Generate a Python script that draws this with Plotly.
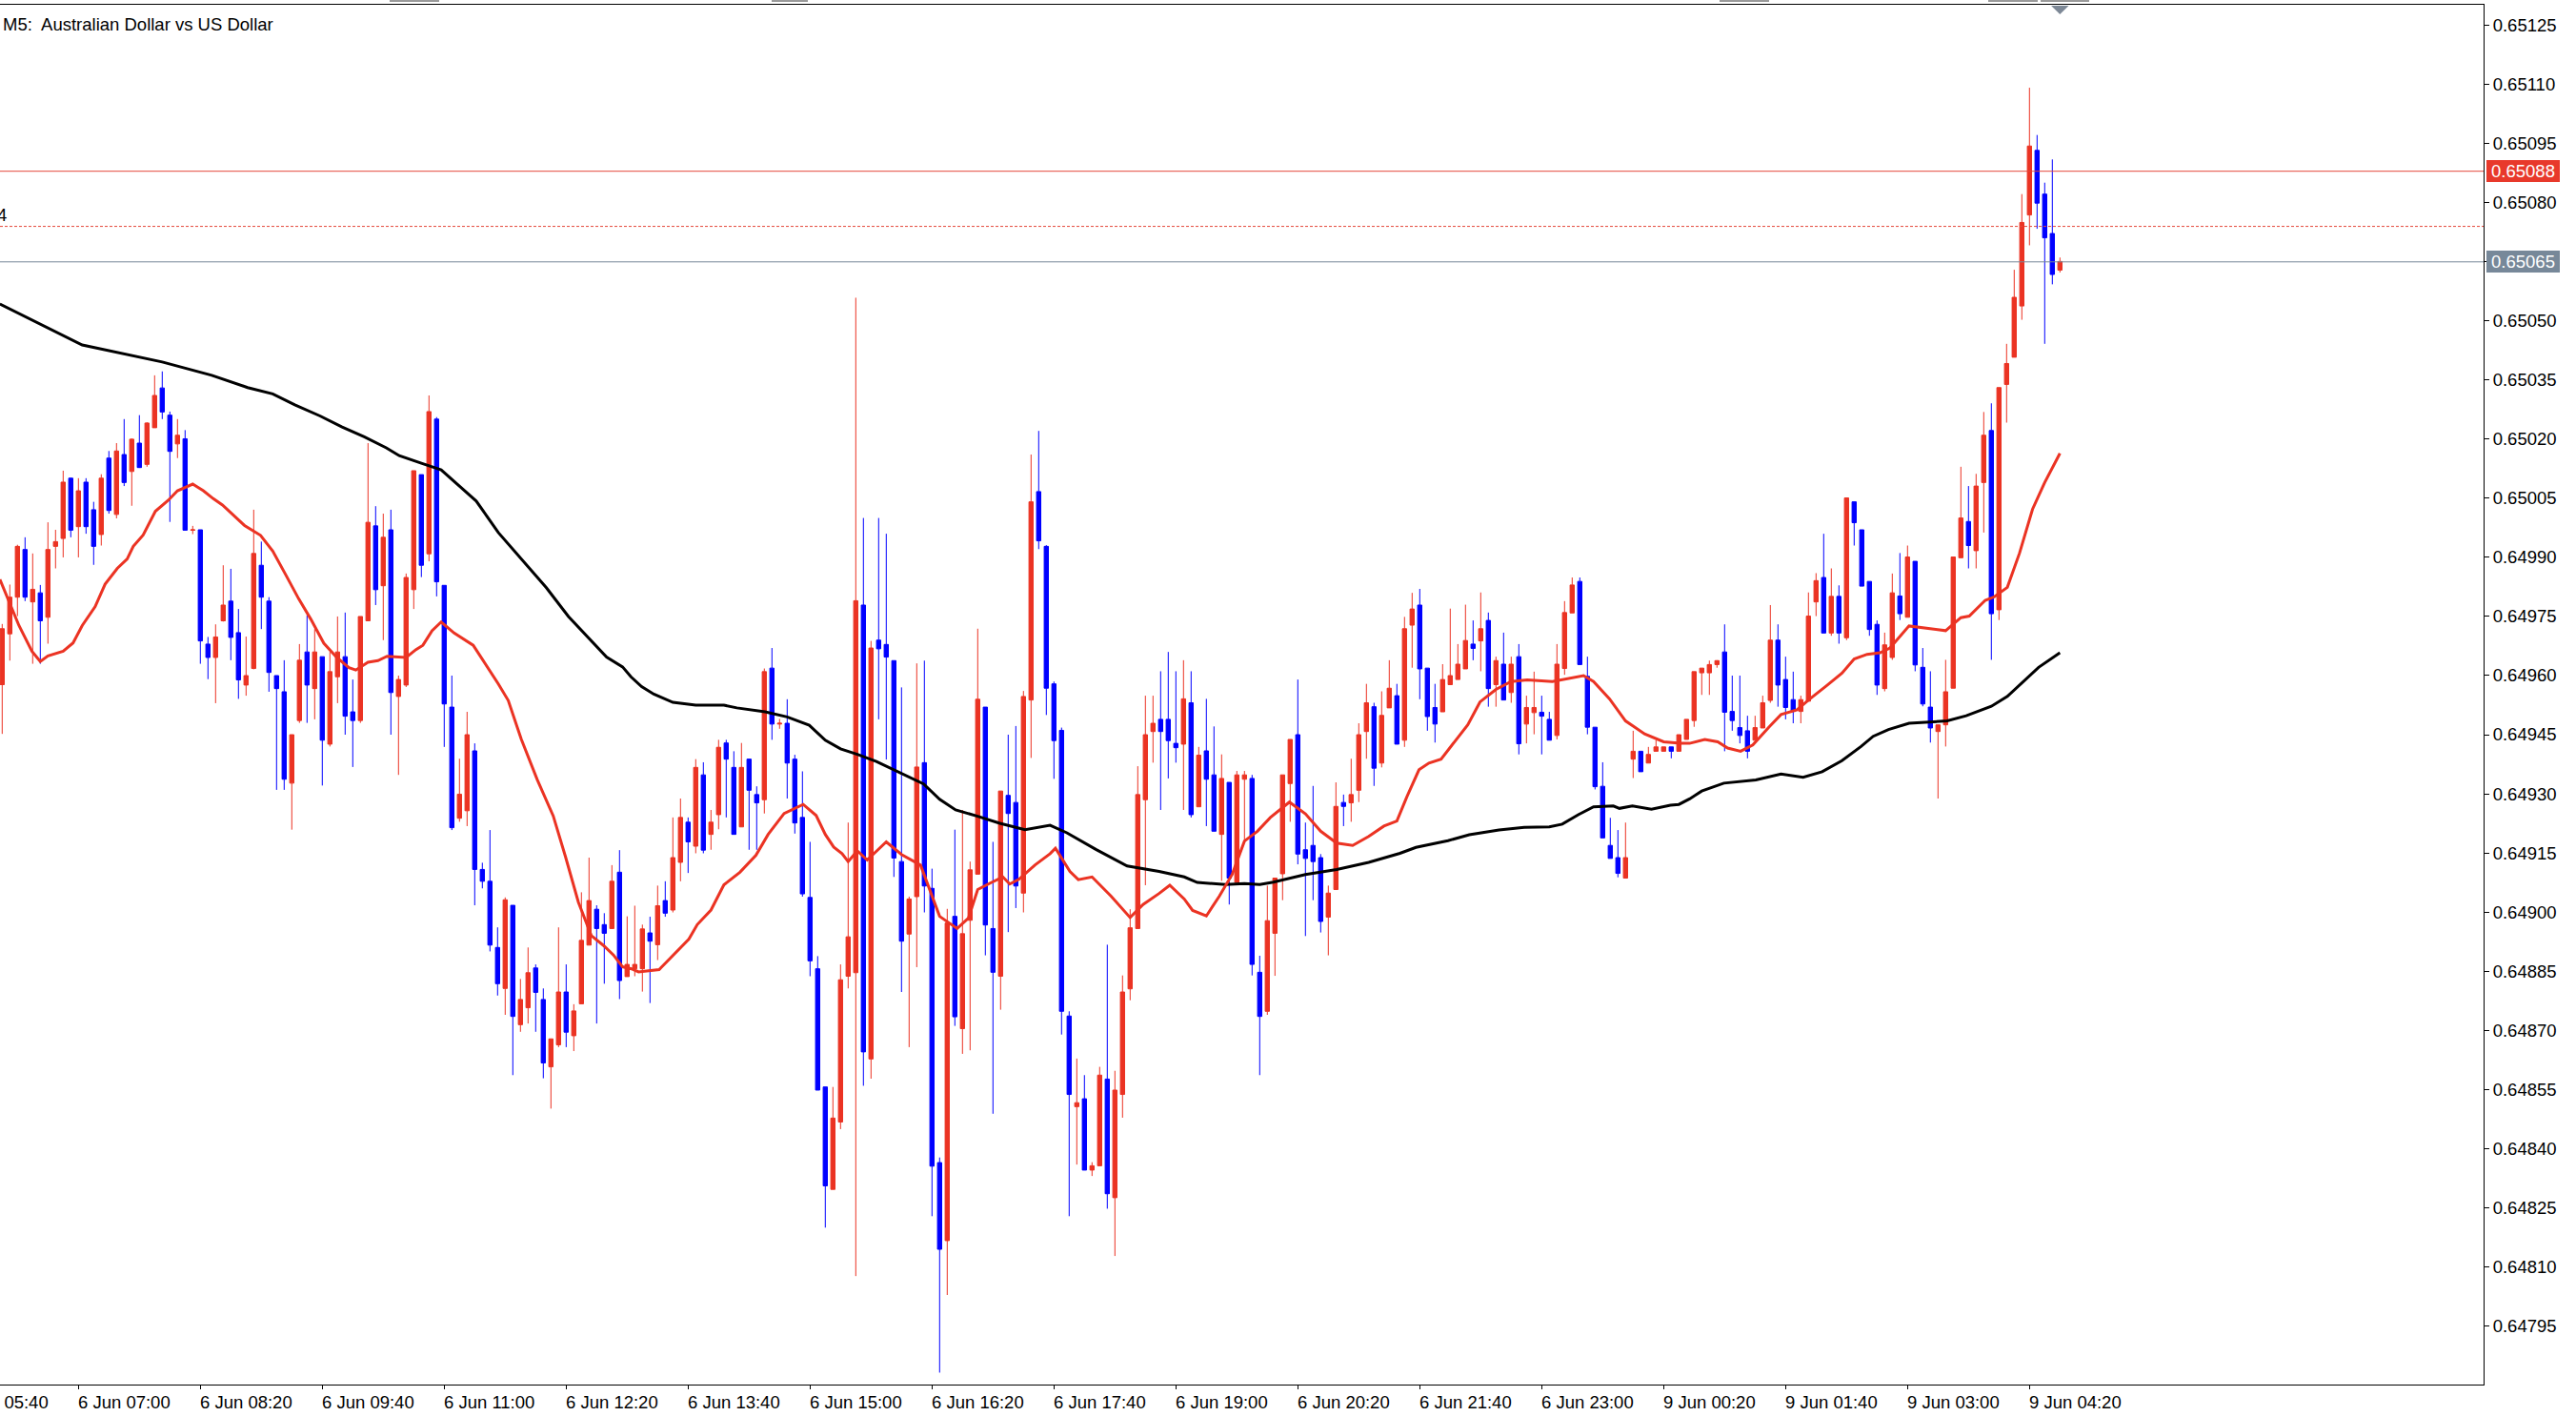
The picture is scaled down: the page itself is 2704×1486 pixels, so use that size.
import plotly.graph_objects as go

# ---------------- DATA (AUDUSD, M5) ----------------
opens = [0.649577,0.649706,0.649799,0.649920,0.649787,0.649810,0.649748,0.649928,0.649948,0.650101,
0.649978,0.650091,0.650021,0.649958,0.650152,0.650009,0.650161,0.650118,0.650190,0.650136,
0.650229,0.650330,0.650261,0.650188,0.650201,0.649969,0.649970,0.649680,0.649646,0.649739,
0.649789,0.649709,0.649576,0.649618,0.649880,0.649789,0.649600,0.649559,0.649327,0.649486,
0.649660,0.649567,0.649648,0.649426,0.649597,0.649648,0.649508,0.649486,0.649739,0.649980,
0.649828,0.649970,0.649547,0.649576,0.649818,0.650110,0.649909,0.650251,0.649829,0.649520,
0.649238,0.649257,0.649409,0.649108,0.649078,0.648910,0.648806,0.649017,0.648714,0.648757,
0.648858,0.648778,0.648607,0.648663,0.648797,0.648686,0.648767,0.648916,0.649007,0.648968,
0.648958,0.649101,0.648836,0.648856,0.648856,0.648947,0.648917,0.649029,0.649005,0.649126,
0.649228,0.649167,0.649348,0.649197,0.649247,0.649429,0.649367,0.649216,0.649388,0.649298,
0.649285,0.649619,0.649477,0.649479,0.649388,0.649240,0.649037,0.648856,0.648556,0.648296,
0.648467,0.648837,0.648846,0.649779,0.648627,0.649690,0.649679,0.649638,0.649128,0.648944,
0.649039,0.649379,0.649060,0.648364,0.648166,0.648989,0.648704,0.648979,0.649096,0.649520,
0.648958,0.648837,0.649296,0.649278,0.649048,0.649538,0.650067,0.649928,0.649579,0.649461,
0.648736,0.648506,0.648526,0.648345,0.648356,0.648576,0.648275,0.648537,0.648805,0.648958,
0.649285,0.649458,0.649489,0.649489,0.649428,0.649426,0.649531,0.649267,0.649409,0.649348,
0.649197,0.649329,0.649075,0.649337,0.649339,0.648847,0.648748,0.648946,0.649097,0.649326,
0.649450,0.649158,0.649169,0.649138,0.648987,0.649057,0.649278,0.649277,0.649309,0.649458,
0.649521,0.649378,0.649518,0.649549,0.649436,0.649728,0.649779,0.649619,0.649519,0.649508,
0.649577,0.649590,0.649617,0.649680,0.649688,0.649740,0.649577,0.649629,0.649557,0.649648,
0.649477,0.649506,0.649507,0.649489,0.649448,0.649618,0.649759,0.649839,0.649598,0.649469,
0.649319,0.649169,0.649138,0.649086,0.649388,0.649408,0.649378,0.649408,0.649408,0.649419,
0.649408,0.649438,0.649486,0.649607,0.649607,0.649628,0.649660,0.649509,0.649468,0.649460,
0.649436,0.649467,0.649537,0.649690,0.649590,0.649539,0.649509,0.649535,0.649787,0.649849,
0.649708,0.649801,0.649696,0.650041,0.649970,0.649839,0.649730,0.649567,0.649646,0.649802,
0.649748,0.649890,0.649621,0.649520,0.649458,0.649475,0.649568,0.649899,0.649991,0.649917,
0.650090,0.650222,0.649767,0.650339,0.650408,0.650538,0.650769,0.650933,0.650822,0.650722,
0.650629]

highs = [0.649731,0.649831,0.649932,0.649951,0.649910,0.649830,0.649989,0.649970,0.650120,0.650102,
0.650101,0.650101,0.650041,0.650111,0.650170,0.650190,0.650251,0.650202,0.650261,0.650243,
0.650362,0.650372,0.650270,0.650251,0.650223,0.649980,0.649970,0.649698,0.649730,0.649880,
0.649871,0.649769,0.649699,0.650021,0.649940,0.649799,0.649600,0.649639,0.649450,0.649680,
0.649753,0.649718,0.649648,0.649660,0.649750,0.649760,0.649590,0.649750,0.650190,0.650030,
0.650011,0.650021,0.649600,0.649859,0.650120,0.650110,0.650311,0.650256,0.649829,0.649600,
0.649389,0.649508,0.649428,0.649125,0.649208,0.648961,0.649037,0.649017,0.648830,0.648910,
0.648867,0.648806,0.648678,0.648961,0.648867,0.648766,0.649050,0.649138,0.649017,0.648997,
0.649119,0.649157,0.648989,0.649016,0.648968,0.648988,0.649067,0.649078,0.649240,0.649288,
0.649240,0.649388,0.649380,0.649259,0.649437,0.649437,0.649408,0.649429,0.649388,0.649319,
0.649618,0.649670,0.649490,0.649540,0.649399,0.649357,0.649178,0.648888,0.648556,0.648556,
0.648867,0.649227,0.650559,0.650000,0.649688,0.650000,0.649960,0.649638,0.649570,0.649039,
0.649631,0.649638,0.649110,0.648377,0.649008,0.649209,0.649259,0.649128,0.649719,0.649520,
0.649178,0.649307,0.649450,0.649472,0.649561,0.650161,0.650221,0.649931,0.649585,0.649468,
0.648748,0.648628,0.648586,0.648365,0.648607,0.648917,0.648597,0.648839,0.649007,0.649370,
0.649549,0.649549,0.649611,0.649660,0.649611,0.649639,0.649611,0.649419,0.649541,0.649471,
0.649400,0.649329,0.649358,0.649358,0.649348,0.648889,0.649067,0.649086,0.649348,0.649438,
0.649590,0.649227,0.649320,0.649147,0.649067,0.649329,0.649298,0.649389,0.649479,0.649579,
0.649531,0.649560,0.649639,0.649579,0.649749,0.649810,0.649820,0.649619,0.649579,0.649629,
0.649770,0.649680,0.649780,0.649740,0.649811,0.649760,0.649648,0.649709,0.649648,0.649680,
0.649549,0.649610,0.649549,0.649508,0.649680,0.649789,0.649849,0.649849,0.649648,0.649469,
0.649380,0.649239,0.649208,0.649227,0.649460,0.649408,0.649419,0.649436,0.649419,0.649419,
0.649450,0.649489,0.649610,0.649619,0.649638,0.649639,0.649730,0.649600,0.649600,0.649498,
0.649498,0.649549,0.649779,0.649730,0.649648,0.649610,0.649549,0.649811,0.649860,0.649960,
0.649872,0.649829,0.650051,0.650041,0.649970,0.649839,0.649740,0.649709,0.649859,0.649911,
0.649930,0.649890,0.649670,0.649611,0.649475,0.649640,0.649901,0.650130,0.650081,0.650112,
0.650269,0.650291,0.650331,0.650442,0.650630,0.650822,0.651092,0.650972,0.650851,0.650910,
0.650661]

lows = [0.649452,0.649638,0.649751,0.649789,0.649630,0.649630,0.649681,0.649872,0.649900,0.649951,
0.649900,0.649960,0.649881,0.649930,0.650011,0.649999,0.650081,0.650031,0.650127,0.650130,
0.650229,0.650251,0.649990,0.650152,0.649969,0.649959,0.649630,0.649591,0.649530,0.649737,
0.649639,0.649541,0.649549,0.649616,0.649718,0.649559,0.649310,0.649310,0.649209,0.649480,
0.649480,0.649489,0.649321,0.649420,0.649530,0.649450,0.649368,0.649480,0.649739,0.649779,
0.649690,0.649450,0.649348,0.649571,0.649769,0.649850,0.649890,0.649801,0.649419,0.649208,
0.649229,0.649218,0.649017,0.649060,0.648900,0.648788,0.648739,0.648586,0.648696,0.648717,
0.648696,0.648578,0.648501,0.648657,0.648657,0.648647,0.648767,0.648916,0.648717,0.648818,
0.648958,0.648779,0.648836,0.648837,0.648798,0.648769,0.648878,0.648988,0.648999,0.649078,
0.649099,0.649149,0.649149,0.649158,0.649210,0.649240,0.649197,0.649216,0.649158,0.649158,
0.649250,0.649437,0.649465,0.649288,0.649199,0.649039,0.648837,0.648548,0.648199,0.648296,
0.648449,0.648806,0.648076,0.648559,0.648577,0.649489,0.649387,0.649089,0.648797,0.648657,
0.648860,0.648999,0.648228,0.647831,0.648028,0.648711,0.648640,0.648649,0.649096,0.648890,
0.648488,0.648752,0.648949,0.649010,0.648999,0.649391,0.649921,0.649500,0.649338,0.648689,
0.648228,0.648359,0.648345,0.648330,0.648356,0.648247,0.648127,0.648478,0.648776,0.648958,
0.649068,0.649379,0.649259,0.649339,0.649379,0.649259,0.649240,0.649267,0.649218,0.649205,
0.649079,0.649019,0.649075,0.649180,0.648839,0.648586,0.648739,0.648838,0.649030,0.649229,
0.649121,0.648939,0.649030,0.648948,0.648890,0.649057,0.649218,0.649229,0.649279,0.649389,
0.649320,0.649367,0.649518,0.649426,0.649419,0.649620,0.649540,0.649460,0.649430,0.649508,
0.649577,0.649590,0.649617,0.649639,0.649611,0.649521,0.649521,0.649538,0.649531,0.649400,
0.649428,0.649451,0.649400,0.649436,0.649438,0.649602,0.649759,0.649628,0.649451,0.649311,
0.649188,0.649136,0.649088,0.649086,0.649340,0.649356,0.649378,0.649408,0.649408,0.649390,
0.649408,0.649438,0.649470,0.649551,0.649551,0.649620,0.649408,0.649460,0.649428,0.649390,
0.649436,0.649467,0.649531,0.649521,0.649489,0.649479,0.649479,0.649535,0.649751,0.649708,
0.649701,0.649681,0.649690,0.649930,0.649827,0.649701,0.649551,0.649560,0.649640,0.649741,
0.649748,0.649611,0.649522,0.649430,0.649288,0.649420,0.649568,0.649899,0.649872,0.649872,
0.649963,0.649640,0.649741,0.650242,0.650408,0.650503,0.650692,0.650734,0.650442,0.650593,
0.650623]

closes = [0.649719,0.649799,0.649928,0.649799,0.649819,0.649739,0.649920,0.649940,0.650091,0.649969,
0.650069,0.649978,0.649928,0.650101,0.650019,0.650170,0.650090,0.650200,0.650128,0.650241,
0.650311,0.650269,0.650169,0.650210,0.649969,0.649970,0.649688,0.649646,0.649698,0.649779,
0.649697,0.649589,0.649600,0.649910,0.649799,0.649608,0.649567,0.649337,0.649450,0.649639,
0.649576,0.649660,0.649436,0.649610,0.649660,0.649497,0.649486,0.649750,0.649989,0.649818,
0.649951,0.649557,0.649590,0.649849,0.650120,0.649880,0.650270,0.649838,0.649528,0.649214,
0.649299,0.649450,0.649108,0.649078,0.648916,0.648818,0.649031,0.648735,0.648778,0.648846,
0.648796,0.648617,0.648678,0.648797,0.648695,0.648749,0.648928,0.649029,0.648958,0.648946,
0.649078,0.648826,0.648867,0.648867,0.648957,0.648926,0.649016,0.648997,0.649138,0.649240,
0.649178,0.649367,0.649157,0.649228,0.649418,0.649388,0.649197,0.649367,0.649309,0.649277,
0.649610,0.649477,0.649479,0.649378,0.649226,0.649046,0.648876,0.648548,0.648305,0.648477,
0.648828,0.648937,0.649790,0.648645,0.649670,0.649668,0.649647,0.649137,0.648926,0.649033,
0.649368,0.649066,0.648355,0.648144,0.648972,0.648734,0.648945,0.649107,0.649540,0.648967,
0.648847,0.649307,0.649250,0.649066,0.649547,0.650041,0.649942,0.649568,0.649435,0.648748,
0.648537,0.648516,0.648345,0.648356,0.648586,0.648285,0.648548,0.648797,0.648960,0.649298,
0.649450,0.649479,0.649458,0.649435,0.649417,0.649541,0.649247,0.649398,0.649337,0.649205,
0.649339,0.649086,0.649348,0.649348,0.648867,0.648735,0.648978,0.649086,0.649348,0.649438,
0.649147,0.649136,0.649128,0.648976,0.649048,0.649268,0.649268,0.649298,0.649450,0.649531,
0.649365,0.649499,0.649568,0.649426,0.649719,0.649769,0.649617,0.649496,0.649477,0.649590,
0.649600,0.649629,0.649689,0.649669,0.649719,0.649567,0.649638,0.649538,0.649629,0.649427,
0.649519,0.649519,0.649497,0.649436,0.649629,0.649760,0.649830,0.649628,0.649469,0.649318,
0.649188,0.649136,0.649098,0.649138,0.649408,0.649356,0.649400,0.649419,0.649419,0.649408,
0.649450,0.649489,0.649610,0.649619,0.649628,0.649638,0.649507,0.649486,0.649448,0.649408,
0.649468,0.649531,0.649690,0.649576,0.649519,0.649509,0.649539,0.649751,0.649841,0.649708,
0.649801,0.649708,0.650051,0.649988,0.649827,0.649717,0.649576,0.649678,0.649810,0.649757,
0.649901,0.649627,0.649528,0.649467,0.649475,0.649559,0.649901,0.650000,0.649930,0.650081,
0.650210,0.649757,0.650331,0.650392,0.650560,0.650750,0.650944,0.650799,0.650711,0.650618,
0.650651]

# fast moving average (red), sampled along the bars
fast_ma_bar = [-0.3,1.0,2.2,3.9,5.0,6.0,8.0,9.3,10.5,12.2,13.5,15.1,16.4,17.2,18.5,20.1,21.8,23.0,25.0,26.4,
27.7,28.9,31.8,33.9,35.5,37.2,38.9,40.5,42.2,43.9,45.5,46.4,48.0,49.3,50.5,53.0,54.3,55.2,56.4,57.6,
59.3,61.8,63.5,65.1,66.4,68.1,70.2,72.3,73.9,75.6,77.3,78.9,80.2,81.4,82.7,83.5,86.2,88.5,90.1,91.2,
93.0,94.7,96.8,98.9,100.5,102.6,105.1,106.8,108.0,109.1,110.2,111.0,112.2,113.5,116.0,118.0,120.5,123.0,125.3,126.8,
128.0,129.7,131.3,132.2,133.4,135.5,137.5,138.2,140.1,141.2,143.0,145.5,148.0,149.7,151.8,153.2,155.1,156.2,158.0,159.7,
161.4,163.0,164.7,166.4,168.9,171.0,173.0,175.1,177.2,179.3,181.3,183.0,184.3,185.9,187.2,188.8,190.5,192.3,193.9,196.0,
198.0,200.1,203.4,205.9,207.5,208.8,210.9,213.0,215.5,218.0,220.2,221.4,223.4,225.1,226.4,228.1,229.7,231.8,233.4,235.5,
237.2,239.3,241.4,243.0,244.7,246.4,247.7,250.2,252.7,255.0,257.0,258.1,260.2,261.4,263.1,264.7,266.4,268.0,270.0]
fast_ma_val = [0.649844,0.649783,0.649727,0.649662,0.649636,0.649650,0.649662,0.649683,0.649727,0.649775,
0.649832,0.649872,0.649896,0.649928,0.649957,0.650017,0.650045,0.650069,0.650086,0.650069,
0.650049,0.650033,0.649981,0.649956,0.649916,0.649856,0.649795,0.649743,0.649682,0.649646,
0.649620,0.649614,0.649634,0.649638,0.649649,0.649646,0.649666,0.649677,0.649714,0.649736,
0.649708,0.649677,0.649628,0.649579,0.649537,0.649439,0.649336,0.649244,0.649141,0.649025,
0.648940,0.648915,0.648891,0.648861,0.648855,0.648848,0.648854,0.648899,0.648931,0.648968,
0.649005,0.649069,0.649101,0.649144,0.649197,0.649250,0.649273,0.649245,0.649197,0.649165,
0.649148,0.649128,0.649155,0.649132,0.649178,0.649146,0.649119,0.648989,0.648958,0.648985,
0.649057,0.649074,0.649089,0.649071,0.649083,0.649119,0.649148,0.649162,0.649103,0.649082,
0.649089,0.649040,0.648986,0.649019,0.649047,0.649068,0.649033,0.649004,0.648990,0.649040,
0.649096,0.649180,0.649205,0.649240,0.649279,0.649249,0.649205,0.649175,0.649169,0.649192,
0.649218,0.649231,0.649292,0.649361,0.649378,0.649388,0.649430,0.649475,0.649533,0.649565,
0.649585,0.649589,0.649585,0.649594,0.649600,0.649585,0.649541,0.649485,0.649452,0.649432,
0.649428,0.649428,0.649438,0.649432,0.649416,0.649408,0.649424,0.649469,0.649501,0.649513,
0.649541,0.649573,0.649606,0.649642,0.649654,0.649658,0.649670,0.649726,0.649720,0.649714,
0.649747,0.649751,0.649791,0.649800,0.649824,0.649911,0.650022,0.650090,0.650164]

# slow moving average (black)
slow_ma_bar = [-0.3,10.5,21.0,27.5,32.2,35.5,38.4,41.7,44.6,47.5,50.4,52.1,55.0,57.6,60.1,62.2,65.1,68.1,71.4,74.3,
77.3,79.3,81.4,82.5,83.9,85.5,88.0,91.0,94.7,96.4,100.1,103.0,105.9,108.0,110.0,112.2,114.7,118.0,120.9,123.0,
125.1,128.0,130.9,134.2,137.5,139.7,143.5,147.6,151.8,155.1,156.8,160.5,163.0,165.0,166.8,171.0,175.1,179.3,183.4,185.5,
189.7,192.5,196.4,199.7,203.0,204.7,206.8,208.8,211.4,212.2,213.9,216.4,218.9,220.0,221.4,223.0,225.9,230.1,233.4,236.3,
238.8,241.4,243.9,245.5,247.5,250.2,255.2,257.7,261.0,263.1,265.2,267.2,270.0]
slow_ma_val = [0.650543,0.650439,0.650396,0.650362,0.650331,0.650315,0.650287,0.650259,0.650231,0.650206,
0.650178,0.650158,0.650139,0.650122,0.650079,0.650043,0.649963,0.649896,0.649823,0.649750,
0.649689,0.649647,0.649622,0.649597,0.649572,0.649553,0.649532,0.649525,0.649525,0.649518,
0.649508,0.649495,0.649474,0.649436,0.649414,0.649400,0.649382,0.649352,0.649325,0.649286,
0.649259,0.649243,0.649225,0.649209,0.649220,0.649201,0.649159,0.649117,0.649103,0.649089,
0.649075,0.649070,0.649072,0.649070,0.649076,0.649095,0.649108,0.649126,0.649149,0.649164,
0.649181,0.649196,0.649208,0.649215,0.649216,0.649223,0.649247,0.649267,0.649269,0.649263,
0.649269,0.649261,0.649271,0.649273,0.649287,0.649307,0.649327,0.649335,0.649350,0.649342,
0.649356,0.649384,0.649420,0.649446,0.649463,0.649479,0.649485,0.649498,0.649522,0.649547,
0.649584,0.649621,0.649658]

time_labels = ["6 Jun 05:40","6 Jun 07:00","6 Jun 08:20","6 Jun 09:40","6 Jun 11:00","6 Jun 12:20",
               "6 Jun 13:40","6 Jun 15:00","6 Jun 16:20","6 Jun 17:40","6 Jun 19:00","6 Jun 20:20",
               "6 Jun 21:40","6 Jun 23:00","9 Jun 00:20","9 Jun 01:40","9 Jun 03:00","9 Jun 04:20"]
time_label_bars = [-6,10,26,42,58,74,90,106,122,138,154,170,186,202,218,234,250,266]

price_ticks = [0.64795,0.64810,0.64825,0.64840,0.64855,0.64870,0.64885,0.64900,0.64915,0.64930,0.64945,
               0.64960,0.64975,0.64990,0.65005,0.65020,0.65035,0.65050,0.65065,0.65080,0.65095,0.65110,0.65125]

alert_level = 0.65088
order_level = 0.65074
bid_level = 0.65065

# ---------------- STYLE ----------------
W, H = 2704, 1486
M_L, M_R, M_T, M_B = 0, 97, 5, 33
BAR_PX = 8.0
X_LO = -2.3 / BAR_PX
X_HI = X_LO + (W - M_L - M_R) / BAR_PX
Y_LO, Y_HI = 0.6478007, 0.6513025

RED = "#eb3323"
BLUE = "#0000ff"
GRAY = "#778899"
FONT = "Liberation Sans, Arial, sans-serif"
FS = 18.5

bars = list(range(len(opens)))

fig = go.Figure()
fig.add_trace(go.Candlestick(
    x=bars, open=opens, high=highs, low=lows, close=closes,
    increasing=dict(line=dict(color=RED, width=1), fillcolor=RED),
    decreasing=dict(line=dict(color=BLUE, width=1), fillcolor=BLUE),
    whiskerwidth=0, hoverinfo="skip", showlegend=False))
fig.add_trace(go.Scatter(x=slow_ma_bar, y=slow_ma_val, mode="lines",
                         line=dict(color="#000000", width=3), hoverinfo="skip", showlegend=False))
fig.add_trace(go.Scatter(x=fast_ma_bar, y=fast_ma_val, mode="lines",
                         line=dict(color=RED, width=3), hoverinfo="skip", showlegend=False))

shapes = [
    dict(type="line", xref="paper", x0=0, x1=1, yref="y", y0=alert_level, y1=alert_level,
         line=dict(color="#e4473a", width=1), layer="above"),
    dict(type="line", xref="paper", x0=0, x1=1, yref="y", y0=order_level, y1=order_level,
         line=dict(color="#e4473a", width=1, dash="3px,2px"), layer="above"),
    dict(type="line", xref="paper", x0=0, x1=1, yref="y", y0=bid_level, y1=bid_level,
         line=dict(color=GRAY, width=1), layer="above"),
]
# chart-shift triangle above last bar
plot_h = H - M_T - M_B
last = bars[-1]
shapes.append(dict(type="path", xref="x", yref="paper",
                   path=f"M {last-1.15},{1-1/plot_h} L {last+1.15},{1-1/plot_h} L {last},{1-10/plot_h} Z",
                   fillcolor="#7d8896", line=dict(width=0), layer="above"))
# thin toolbar marks above the chart frame
for a, b in [(409, 461), (810, 848), (1805, 1857), (2087, 2139), (2142, 2193)]:
    shapes.append(dict(type="rect", xref="paper", yref="paper",
                       x0=a / (W - M_L - M_R), x1=b / (W - M_L - M_R),
                       y0=1 + 3 / plot_h, y1=1 + 5 / plot_h,
                       fillcolor="#9a9a9a", line=dict(width=0)))

ann = []
ann.append(dict(xref="paper", yref="paper", x=0, y=1, xanchor="left", yanchor="middle",
                yshift=-20.5, xshift=1, showarrow=False,
                text="M5:\u00a0 Australian Dollar vs US Dollar",
                font=dict(family=FONT, size=FS, color="#000000")))
ann.append(dict(xref="paper", yref="y", x=0, y=order_level, xanchor="right", yanchor="bottom",
                xshift=9, yshift=0, showarrow=False, text="4",
                font=dict(family=FONT, size=FS, color="#000000")))
for lab, b in zip(time_labels, time_label_bars):
    if b >= 0:
        ann.append(dict(xref="x", yref="paper", x=b, y=0, xanchor="left", yanchor="middle",
                        xshift=-2, yshift=-18, showarrow=False, text=lab,
                        font=dict(family=FONT, size=FS, color="#000000")))
    else:
        ann.append(dict(xref="paper", yref="paper", x=0, y=0, xanchor="left", yanchor="middle",
                        xshift=(b - X_LO) * BAR_PX - 2, yshift=-18, showarrow=False, text=lab,
                        font=dict(family=FONT, size=FS, color="#000000")))
for lvl, col in [(alert_level, "#e8392b"), (bid_level, GRAY)]:
    ann.append(dict(xref="paper", yref="y", x=1, y=lvl, xanchor="left", yanchor="middle",
                    xshift=3, showarrow=False, text=f"{lvl:.5f}", bgcolor=col,
                    borderpad=2, borderwidth=1, bordercolor=col, width=71, height=17,
                    font=dict(family=FONT, size=FS, color="#ffffff")))

fig.update_layout(
    width=W, height=H, margin=dict(l=M_L, r=M_R, t=M_T, b=M_B, pad=0),
    paper_bgcolor="#ffffff", plot_bgcolor="#ffffff", showlegend=False,
    boxgap=0.45, boxgroupgap=0, boxmode="overlay",
    shapes=shapes, annotations=ann, hovermode=False,
    xaxis=dict(type="linear", range=[X_LO, X_HI], showgrid=False, zeroline=False,
               showline=True, linecolor="#000000", linewidth=1, mirror=True,
               tickmode="array", tickvals=[b for b in time_label_bars if b >= 0],
               ticks="outside", ticklen=4, tickcolor="#000000", showticklabels=False,
               rangeslider=dict(visible=False), fixedrange=True),
    yaxis=dict(side="right", range=[Y_LO, Y_HI], showgrid=False, zeroline=False,
               showline=True, linecolor="#000000", linewidth=1, mirror=False,
               tickmode="array", tickvals=price_ticks, ticktext=[f"{v:.5f}" for v in price_ticks],
               ticks="outside", ticklen=5, tickcolor="#000000",
               tickfont=dict(family=FONT, size=FS, color="#000000"), fixedrange=True),
)

fig.write_html("out.html", config={"displayModeBar": False, "staticPlot": True},
               post_script="document.body.style.margin='0';document.body.style.overflow='hidden';")
